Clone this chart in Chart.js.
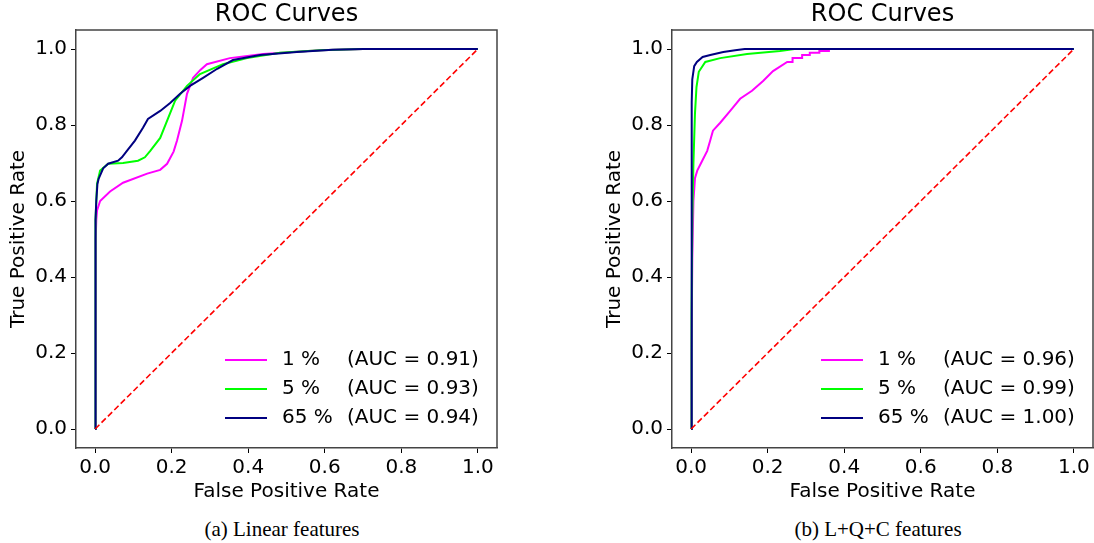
<!DOCTYPE html>
<html>
<head>
<meta charset="utf-8">
<script src="https://cdn.jsdelivr.net/npm/chart.js@4.4.0/dist/chart.umd.min.js"></script>
<style>
  body { margin: 0; background: #fff; width: 1094px; height: 543px; position: relative; overflow: hidden; }
  canvas { position: absolute; top: 0; }
  .caption { position: absolute; top: 519px; width: 300px; text-align: center; font-family: "Liberation Serif", serif; font-size: 21px; line-height: 20px; color: #000; }
</style>
</head>
<body>
<canvas id="rocLinear" width="547" height="504" style="left:0"></canvas>
<canvas id="rocLqc" width="498" height="504" style="left:596px"></canvas>
<div class="caption" style="left:132px">(a) Linear features</div>
<div class="caption" style="left:728px">(b) L+Q+C features</div>

<script>
// ticks
const rateTicks = [0, 0.2, 0.4, 0.6, 0.8, 1.0];
const rateLabels = ['1 %', '5 %', '65 %'];

// (a) linear features
const linFpr1 = [0, 0.001, 0.002, 0.003, 0.005, 0.013, 0.039, 0.073, 0.136, 0.17, 0.188, 0.205, 0.214, 0.227, 0.24, 0.256, 0.275, 0.292, 0.352, 0.439, 0.587, 0.7, 1];
const linTpr1 = [0, 0.3, 0.5, 0.55, 0.575, 0.6, 0.625, 0.648, 0.672, 0.682, 0.698, 0.73, 0.759, 0.811, 0.882, 0.924, 0.945, 0.96, 0.976, 0.987, 0.997, 1, 1];
const linFpr5 = [0, 0, 0.002, 0.003, 0.005, 0.013, 0.034, 0.073, 0.112, 0.13, 0.144, 0.17, 0.191, 0.209, 0.24, 0.274, 0.334, 0.397, 0.483, 0.587, 0.7, 1];
const linTpr5 = [0, 0.2, 0.55, 0.6, 0.646, 0.68, 0.698, 0.7, 0.706, 0.715, 0.732, 0.766, 0.819, 0.864, 0.903, 0.934, 0.96, 0.976, 0.99, 0.997, 1, 1];
const linFpr65 = [0, 0, 0.002, 0.003, 0.006, 0.009, 0.021, 0.034, 0.06, 0.07, 0.083, 0.104, 0.125, 0.138, 0.17, 0.196, 0.222, 0.248, 0.282, 0.319, 0.36, 0.431, 0.527, 0.62, 0.7, 1];
const linTpr65 = [0, 0.2, 0.55, 0.6, 0.645, 0.658, 0.686, 0.698, 0.706, 0.715, 0.732, 0.759, 0.793, 0.816, 0.837, 0.858, 0.882, 0.903, 0.924, 0.948, 0.971, 0.984, 0.992, 0.998, 1, 1];
const linAuc = ['0.91', '0.93', '0.94'];

// (b) L+Q+C features
const lqcFpr1 = [0, 0.001, 0.003, 0.006, 0.01, 0.016, 0.029, 0.042, 0.05, 0.057, 0.076, 0.102, 0.128, 0.159, 0.188, 0.214, 0.251, 0.265, 0.265, 0.29, 0.29, 0.31, 0.31, 0.335, 0.335, 0.36, 0.36, 1];
const lqcTpr1 = [0, 0.2, 0.45, 0.6, 0.66, 0.68, 0.706, 0.732, 0.76, 0.785, 0.806, 0.837, 0.869, 0.89, 0.916, 0.942, 0.966, 0.966, 0.976, 0.976, 0.984, 0.984, 0.99, 0.99, 0.995, 0.995, 1, 1];
const lqcFpr5 = [0, 0.001, 0.003, 0.006, 0.01, 0.014, 0.02, 0.037, 0.076, 0.146, 0.232, 0.27, 1];
const lqcTpr5 = [0, 0.3, 0.55, 0.7, 0.83, 0.9, 0.94, 0.966, 0.976, 0.987, 0.995, 1, 1];
const lqcFpr65 = [0, 0.001, 0.002, 0.003, 0.008, 0.015, 0.03, 0.05, 0.084, 0.115, 0.14, 1];
const lqcTpr65 = [0, 0.7, 0.86, 0.92, 0.955, 0.966, 0.979, 0.984, 0.992, 0.997, 1, 1];
const lqcAuc = ['0.96', '0.99', '1.00'];

const diagonal = [0, 1];

const curveColors = ['#ff00ff', '#00ff00', '#000080'];
const fontFam = '"DejaVu Sans", sans-serif';

function toPoints(xs, ys) {
  return xs.map((x, i) => ({ x: x, y: ys[i] }));
}

// legend drawn inside the plot, lower right, no frame
const rocLegend = {
  id: 'rocLegend',
  afterDatasetsDraw(chart, args, opts) {
    const { ctx, chartArea: a } = chart;
    ctx.save();
    ctx.font = '20px ' + fontFam;
    ctx.textBaseline = 'middle';
    ctx.textAlign = 'left';
    rateLabels.forEach((lab, i) => {
      const y = a.bottom - 88 + i * 29;
      ctx.strokeStyle = curveColors[i];
      ctx.lineWidth = 2;
      ctx.beginPath();
      ctx.moveTo(a.right - 272, y);
      ctx.lineTo(a.right - 230, y);
      ctx.stroke();
      ctx.fillStyle = '#000';
      ctx.fillText(lab, a.right - 215, y);
      ctx.fillText('(AUC = ' + opts.auc[i] + ')', a.right - 150, y);
    });
    ctx.restore();
  }
};

// top and right spines
const spines = {
  id: 'spines',
  afterDraw(chart) {
    const { ctx, chartArea: a } = chart;
    ctx.save();
    ctx.strokeStyle = '#444';
    ctx.lineWidth = 1.5;
    ctx.beginPath();
    ctx.moveTo(a.left, a.top);
    ctx.lineTo(a.right, a.top);
    ctx.lineTo(a.right, a.bottom);
    ctx.stroke();
    ctx.restore();
  }
};

function rateAxis(title, isX) {
  return {
    type: 'linear',
    min: -0.05,
    max: 1.05,
    afterBuildTicks: s => { s.ticks = rateTicks.map(v => ({ value: v })); },
    afterFit: s => { if (isX) s.height = 56; else s.width = 76; },
    ticks: {
      color: '#000',
      font: { family: fontFam, size: 20 },
      padding: isX ? 3 : 4,
      callback: v => v.toFixed(1)
    },
    grid: { display: true, drawOnChartArea: false, drawTicks: true, tickLength: 5, color: '#000', lineWidth: 1 },
    border: { display: true, color: '#444', width: 1.5 },
    title: {
      display: true,
      text: title,
      color: '#000',
      font: { family: fontFam, size: 20 },
      padding: isX ? { top: 0, bottom: 0 } : { top: 7, bottom: 0 }
    }
  };
}

function makeRoc(id, series, auc, padRight) {
  const sets = series.map((s, i) => ({
    label: rateLabels[i],
    data: toPoints(s[0], s[1]),
    borderColor: curveColors[i],
    borderWidth: 2,
    pointRadius: 0,
    tension: 0,
    fill: false,
    order: 3 - i
  }));
  sets.push({
    label: 'chance',
    data: toPoints(diagonal, diagonal),
    borderColor: '#ff0000',
    borderWidth: 1.6,
    borderDash: [6, 3],
    pointRadius: 0,
    fill: false,
    order: 0
  });

  new Chart(document.getElementById(id), {
    type: 'line',
    data: { datasets: sets },
    options: {
      responsive: false,
      animation: false,
      layout: { padding: { left: 0, right: padRight, top: 0, bottom: 0 } },
      scales: {
        x: rateAxis('False Positive Rate', true),
        y: rateAxis('True Positive Rate', false)
      },
      plugins: {
        legend: { display: false },
        tooltip: { enabled: false },
        title: {
          display: true,
          text: 'ROC Curves',
          color: '#000',
          fullSize: false,
          font: { family: fontFam, size: 24, weight: 'normal', lineHeight: 1 },
          padding: { top: 3, bottom: 3 }
        },
        rocLegend: { auc: auc }
      }
    },
    plugins: [rocLegend, spines]
  });
}

makeRoc('rocLinear', [[linFpr1, linTpr1], [linFpr5, linTpr5], [linFpr65, linTpr65]], linAuc, 50);
makeRoc('rocLqc', [[lqcFpr1, lqcTpr1], [lqcFpr5, lqcTpr5], [lqcFpr65, lqcTpr65]], lqcAuc, 1);
</script>
</body>
</html>
